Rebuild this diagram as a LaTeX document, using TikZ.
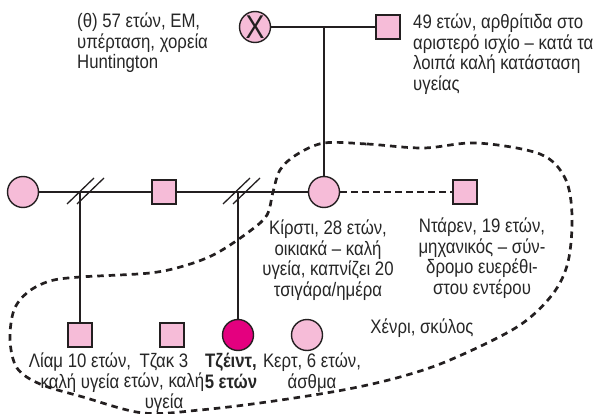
\documentclass[tikz,border=0pt]{standalone}
\usepackage{fontspec}
\setmainfont{Liberation Sans}[FakeStretch=0.86]
\definecolor{pinkf}{HTML}{F6BCD8}
\definecolor{magf}{HTML}{E4007F}
\definecolor{ink}{HTML}{231F20}
\definecolor{txt}{HTML}{262626}
\begin{document}
\begin{tikzpicture}[x=1pt,y=-1pt,
  female/.style={circle,draw=ink,line width=1.4pt,fill=pinkf,minimum size=31pt,inner sep=0pt},
  male/.style={rectangle,draw=ink,line width=1.4pt,fill=pinkf,minimum size=24pt,inner sep=0pt},
  rel/.style={draw=ink,line width=2.8pt},
  relx/.style={draw=ink,line width=2.6pt,dash pattern=on 6.5pt off 4.5pt},
  slash/.style={draw=ink,line width=1.3pt},
  loop/.style={draw=ink,line width=2.7pt,dash pattern=on 6.5pt off 5pt},
  lbl/.style={font=\fontsize{19.5}{20.5}\selectfont,text=txt,inner sep=0pt}]
\useasboundingbox (0,0) rectangle (596,414);

% generation I
\node[female] (gm) at (255,27) {};
\node[text=ink,font=\fontsize{33}{33}\selectfont,inner sep=0pt] (gmx) at (gm.center) {X};
\node[male] (gf) at (388,27) {};
% generation II
\node[female] (w1) at (23,192) {};
\node[male] (h1) at (164,192) {};
\node[female] (ki) at (324,192) {};
\node[male] (da) at (465,192) {};
% generation III
\node[male] (li) at (80,335) {};
\node[male] (tz) at (172,335) {};
\node[female,fill=magf] (ja) at (238,335) {};
\node[female] (ke) at (307,335) {};

\coordinate (j0) at (ki |- gm);
\coordinate (j1) at (li |- w1);
\coordinate (j2) at (ja |- w1);

% connectors
\draw[rel] (gm.east) -- (gf.west);
\draw[rel] (j0) -- (ki.north);
\draw[rel] (w1.east) -- (h1.west);
\draw[rel] (h1.east) -- (ki.west);
\draw[rel] (j1) -- (li.north);
\draw[rel] (j2) -- (ja.north);
\draw[relx] (ki.east) -- (da.west);

% divorce slashes
\draw[slash] ([shift={(-13,12)}]j1) -- ([shift={(14,-14)}]j1);
\draw[slash] ([shift={(-3,12)}]j1) -- ([shift={(24,-14)}]j1);
\draw[slash] ([shift={(-15,12)}]j2) -- ([shift={(12,-14)}]j2);
\draw[slash] ([shift={(-5,12)}]j2) -- ([shift={(22,-14)}]j2);

% household boundary
\draw[loop] plot[smooth cycle, tension=0.55] coordinates {
  (324,143) (367,144) (423,148) (477,143) (540,154) (565,178) (572,215)
  (568,262) (552,295) (517,327) (450,360) (400,377) (343,390) (267,402)
  (200,410) (143,413) (83,397) (40,384) (17,368) (10,340) (14,310)
  (28,292) (50,281) (80,277) (150,273) (187,265) (217,253) (250,231)
  (267,215) (273,192) (280,170) (296,155)};

% labels
\node[lbl,align=left,anchor=north west] (tgm) at (77,13)
  {(θ) 57 ετών, ΕΜ,\\υπέρταση, χορεία\\Huntington};
\node[lbl,align=left,anchor=north west] (tgf) at (413,14)
  {49 ετών, αρθρίτιδα στο\\αριστερό ισχίο – κατά τα\\λοιπά καλή κατάσταση\\υγείας};
\node[lbl,align=center,anchor=north] (tki) at (328,220)
  {Κίρστι, 28 ετών,\\οικιακά – καλή\\υγεία, καπνίζει 20\\τσιγάρα/ημέρα};
\node[lbl,align=center,anchor=north] (tda) at (482,218)
  {Ντάρεν, 19 ετών,\\μηχανικός – σύν-\\δρομο ευερέθι-\\στου εντέρου};
\node[lbl,anchor=base] (the) at (422,333) {Χένρι, σκύλος};
\node[lbl,align=center,anchor=north] (tli) at (80,353) {Λίαμ 10 ετών,\\καλή υγεία};
\node[lbl,align=center,anchor=north] (ttz) at (164,353) {Τζακ 3\\ετών, καλή\\υγεία};
\node[lbl,align=center,anchor=north,font=\fontsize{19.5}{20.5}\selectfont\bfseries] (tja) at (231,353) {Τζέιντ,\\5 ετών};
\node[lbl,align=center,anchor=north] (tke) at (312,353) {Κερτ, 6 ετών,\\άσθμα};
\end{tikzpicture}
\end{document}
